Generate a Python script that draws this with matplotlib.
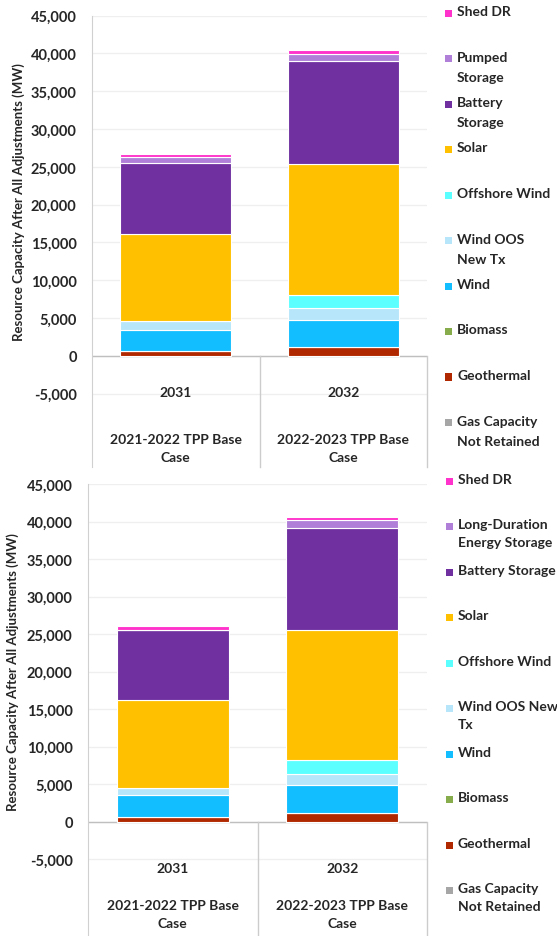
import numpy as np
import matplotlib
matplotlib.use('Agg')
import matplotlib.pyplot as plt
from matplotlib.patches import Rectangle

plt.rcParams['font.family'] = ['Lato', 'DejaVu Sans']
plt.rcParams['font.weight'] = 'bold'

#Chart data (MW), stacked bottom to top
years = ['2031', '2032']
cases = ['2021-2022 TPP Base\nCase', '2022-2023 TPP Base\nCase']

resources_top = ['Gas Capacity\nNot Retained', 'Geothermal', 'Biomass', 'Wind',
                 'Wind OOS\nNew Tx', 'Offshore Wind', 'Solar', 'Battery\nStorage',
                 'Pumped\nStorage', 'Shed DR']
resources_bottom = ['Gas Capacity\nNot Retained', 'Geothermal', 'Biomass', 'Wind',
                    'Wind OOS New\nTx', 'Offshore Wind', 'Solar', 'Battery Storage',
                    'Long-Duration\nEnergy Storage', 'Shed DR']

gas_top = [0, 0]
geothermal_top = [600, 1100]
biomass_top = [0, 0]
wind_top = [2850, 3600]
wind_oos_top = [1100, 1550]
offshore_top = [0, 1770]
solar_top = [11600, 17400]
battery_top = [9400, 13550]
pumped_top = [700, 1000]
shed_top = [500, 450]

gas_bot = [0, 0]
geothermal_bot = [650, 1150]
biomass_bot = [0, 0]
wind_bot = [2900, 3700]
wind_oos_bot = [1000, 1560]
offshore_bot = [0, 1770]
solar_bot = [11650, 17350]
battery_bot = [9400, 13650]
ldes_bot = [0, 1000]
shed_bot = [500, 420]

colors = ['#A6A6A6', '#B02800', '#86AC4B', '#12BEFF', '#B7E6FA', '#5CFFFF',
          '#FFC000', '#7030A0', '#B07FD8', '#FF33CC']

text_col = '#262626'
fs = 10

fig = plt.figure(figsize=(5.57, 9.37), dpi=100)


def draw_panel(rect, ymin, series, labels, ylabel_pos, year_y, case_y, legend_top, legend_x, leg_ls):
    ax = fig.add_axes(rect)
    x = np.arange(len(years))
    bottom = np.zeros(len(years))
    for vals, col in zip(series, colors):
        ax.bar(x, vals, 0.66, bottom=bottom, color=col, edgecolor='white', linewidth=0.8, zorder=3)
        bottom = bottom + np.array(vals)

    ax.set_xlim(-0.5, 1.5)
    ax.set_ylim(ymin, 45000)
    ticks = np.arange(-5000, 45001, 5000)
    ax.set_yticks(ticks)
    ax.set_yticklabels(['{:,}'.format(t) for t in ticks], fontsize=10.5, fontweight='bold', color=text_col)
    ax.tick_params(axis='y', length=0, pad=11)
    ax.set_xticks([])
    for t in ticks:
        ax.axhline(t, color='#EFEFEF', linewidth=0.9, zorder=1)
    for s in ['top', 'right', 'bottom']:
        ax.spines[s].set_visible(False)
    ax.spines['left'].set_color('#D0D0D0')
    ax.axhline(0, color='#BFBFBF', linewidth=1.0, zorder=2)
    #category separator ticks below zero
    for xs in [0.5, 1.5]:
        ax.plot([xs, xs], [ymin, 0], color='#CCCCCC', linewidth=1.0, clip_on=False, zorder=2)

    for i in range(len(years)):
        ax.text(i, year_y, years[i], ha='center', va='center', fontsize=fs, fontweight='bold', color=text_col)
        ax.text(i, case_y, cases[i], ha='center', va='center', fontsize=fs, fontweight='bold',
                color=text_col, linespacing=1.6)

    fig.text(ylabel_pos[0], ylabel_pos[1], 'Resource Capacity After All Adjustments (MW)', rotation=90,
             ha='center', va='center', fontsize=9.5, fontweight='bold', color=text_col)

    #legend, top entry first
    H = 937.0
    W = 557.0
    for k, (lab, col) in enumerate(zip(labels[::-1], colors[::-1])):
        yc = legend_top + k * 45.5
        fig.patches.append(Rectangle(((legend_x - 3.5) / W, 1 - (yc + 3.5) / H), 7 / W, 7 / H,
                                     facecolor=col, edgecolor='none', transform=fig.transFigure, figure=fig))
        fig.text((legend_x + 9) / W, 1 - (yc - 8) / H, lab, ha='left', va='top', fontsize=fs,
                 fontweight='bold', color=text_col, linespacing=leg_ls)
    return ax


draw_panel([92 / 557, 0.5005, 335 / 557, 0.4817], -14730,
           [gas_top, geothermal_top, biomass_top, wind_top, wind_oos_top, offshore_top,
            solar_top, battery_top, pumped_top, shed_top],
           resources_top, (0.034, 0.7844), -4800, -12216, 14, 448, 1.8)

draw_panel([88 / 557, 0.0, 339 / 557, 0.4824], -15231,
           [gas_bot, geothermal_bot, biomass_bot, wind_bot, wind_oos_bot, offshore_bot,
            solar_bot, battery_bot, ldes_bot, shed_bot],
           resources_bottom, (0.023, 0.2828), -6170, -12366, 482, 449, 1.6)

plt.savefig('out.png', dpi=100)
plt.close()
